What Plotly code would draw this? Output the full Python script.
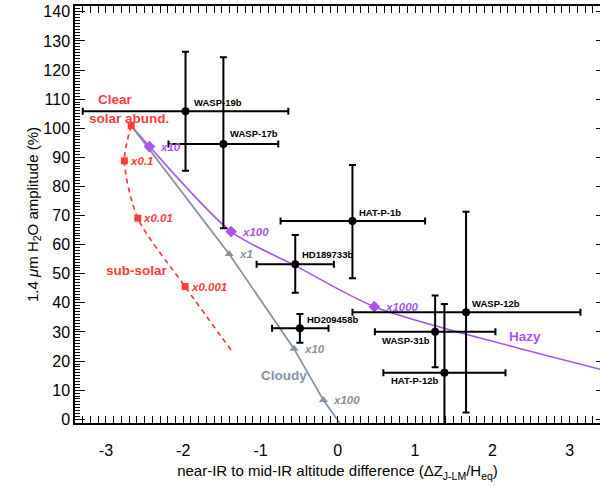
import plotly.graph_objects as go

# ---------------- data ----------------
planets = ["WASP-19b", "WASP-17b", "HAT-P-1b", "HD189733b", "HD209458b",
           "WASP-12b", "WASP-31b", "HAT-P-12b"]
planet_dz = [-1.97, -1.48, 0.19, -0.55, -0.49, 1.66, 1.26, 1.38]
planet_dz_lo = [1.33, 0.71, 0.93, 0.50, 0.36, 1.47, 0.78, 0.79]
planet_dz_hi = [1.33, 0.71, 0.94, 0.50, 0.37, 1.48, 0.78, 0.79]
planet_amp = [105.8, 94.6, 68.1, 53.3, 31.3, 36.8, 30.1, 16.0]
planet_amp_lo = [20.4, 29.0, 19.6, 9.8, 5.0, 34.5, 12.2, 23.6]
planet_amp_hi = [20.5, 29.8, 19.3, 10.0, 4.9, 34.5, 12.4, 23.6]

# clear atmosphere, sub-solar abundances (first point = solar abundance)
sub_dz = [-2.673, -2.761, -2.587, -1.975, -1.351]
sub_amp = [100.9, 88.8, 69.1, 45.6, 22.7]
sub_tags = ["", "x0.1", "x0.01", "x0.001", ""]

# cloudy model
cloudy_dz = [-2.673, -1.406, -0.565, -0.186, 0.03]
cloudy_amp = [100.9, 56.8, 24.2, 6.6, -1.5]
cloudy_tags = ["", "x1", "x10", "x100", ""]

# hazy model
hazy_dz = [-2.673, -2.437, -1.380, -0.55, 0.473, 2.272, 3.393]
hazy_amp = [100.9, 93.7, 64.5, 52.8, 38.7, 24.9, 17.2]
hazy_tags = ["", "x10", "x100", "", "x1000", "", ""]

x_tick_vals = [-3, -2, -1, 0, 1, 2, 3]
x_tick_text = ["-3", "-2", "-1", "0", "1", "2", "3"]
y_tick_vals = [0, 10, 20, 30, 40, 50, 60, 70, 80, 90, 100, 110, 120, 130, 140]

# ---------------- style ----------------
RED = "#ff3b3b"
PURPLE = "#a855f0"
GRAY = "#8593a3"
FONT = "Liberation Sans, Arial, Helvetica, sans-serif"

# label offsets in px (xshift, yshift, xanchor)
planet_label_pos = {
    "WASP-19b": (6, 8.6, "left"),
    "WASP-17b": (4.4, 10, "left"),
    "HAT-P-1b": (4.6, 8.7, "left"),
    "HD189733b": (4.3, 9.3, "left"),
    "HD209458b": (5, 9, "left"),
    "WASP-12b": (4.3, 9, "left"),
    "WASP-31b": (-29.5, -9.3, "center"),
    "HAT-P-12b": (-29, -8, "center"),
}

fig = go.Figure()

# hazy line
fig.add_trace(go.Scatter(x=hazy_dz, y=hazy_amp, mode="lines",
                         line=dict(color=PURPLE, width=1.6, shape="spline", smoothing=0.8),
                         hoverinfo="skip", showlegend=False))
# cloudy line
fig.add_trace(go.Scatter(x=cloudy_dz, y=cloudy_amp, mode="lines",
                         line=dict(color=GRAY, width=1.8),
                         hoverinfo="skip", showlegend=False))
# sub-solar dashed
fig.add_trace(go.Scatter(x=sub_dz, y=sub_amp, mode="lines",
                         line=dict(color=RED, width=1.7, dash="5px,4px", shape="spline", smoothing=0.8),
                         hoverinfo="skip", showlegend=False))

# model markers
hx = [x for x, t in zip(hazy_dz, hazy_tags) if t]
hy = [y for y, t in zip(hazy_amp, hazy_tags) if t]
fig.add_trace(go.Scatter(x=hx, y=hy, mode="markers",
                         marker=dict(symbol="diamond", size=9, color=PURPLE),
                         showlegend=False))
cx = [x for x, t in zip(cloudy_dz, cloudy_tags) if t]
cy = [y for y, t in zip(cloudy_amp, cloudy_tags) if t]
fig.add_trace(go.Scatter(x=cx, y=cy, mode="markers",
                         marker=dict(symbol="triangle-up", size=8, color=GRAY),
                         showlegend=False))
sx = [x for x, t, i in zip(sub_dz, sub_tags, range(len(sub_dz))) if t or i == 0]
sy = [y for y, t, i in zip(sub_amp, sub_tags, range(len(sub_amp))) if t or i == 0]
fig.add_trace(go.Scatter(x=sx, y=sy, mode="markers",
                         marker=dict(symbol="square", size=7, color=RED),
                         showlegend=False))

# planets
fig.add_trace(go.Scatter(
    x=planet_dz, y=planet_amp, mode="markers",
    marker=dict(symbol="circle", size=8, color="black"),
    error_x=dict(type="data", array=planet_dz_hi, arrayminus=planet_dz_lo,
                 color="black", thickness=2, width=3.5),
    error_y=dict(type="data", array=planet_amp_hi, arrayminus=planet_amp_lo,
                 color="black", thickness=2, width=3.5),
    showlegend=False))

# dummy trace for right-hand tick axis
fig.add_trace(go.Scatter(x=[None], y=[None], yaxis="y2", showlegend=False))

ann = []
for name, x, y in zip(planets, planet_dz, planet_amp):
    xs, ys, xa = planet_label_pos[name]
    ann.append(dict(x=x, y=y, text="<b>" + name + "</b>", showarrow=False,
                    xshift=xs, yshift=ys, xanchor=xa, yanchor="middle",
                    font=dict(family=FONT, size=9.5, color="black")))


def tag_ann(xs_, ys_, tags, color, shift):
    for x, y, t in zip(xs_, ys_, tags):
        if t:
            ann.append(dict(x=x, y=y, text="<b><i>" + t + "</i></b>", showarrow=False,
                            xshift=shift, yshift=0, xanchor="left", yanchor="middle",
                            font=dict(family=FONT, size=11.5, color=color)))


tag_ann(sub_dz, sub_amp, sub_tags, RED, 3.5)
tag_ann(cloudy_dz, cloudy_amp, cloudy_tags, GRAY, 7.5)
tag_ann(hazy_dz, hazy_amp, hazy_tags, PURPLE, 8.5)

big = dict(family=FONT, size=13.5)
ann.append(dict(x=sub_dz[0], y=sub_amp[0], text="<b>Clear</b>", showarrow=False,
                xshift=-16, yshift=25.7, xanchor="center", yanchor="middle",
                font=dict(big, color=RED)))
ann.append(dict(x=sub_dz[0], y=sub_amp[0], text="<b>solar abund.</b>", showarrow=False,
                xshift=-2, yshift=7.4, xanchor="center", yanchor="middle",
                font=dict(big, color=RED)))
ann.append(dict(x=-2.600, y=51.1, text="<b>sub-solar</b>", showarrow=False,
                xanchor="center", yanchor="middle", font=dict(big, color=RED)))
ann.append(dict(x=-0.691, y=15.2, text="<b>Cloudy</b>", showarrow=False,
                xanchor="center", yanchor="middle", font=dict(big, color=GRAY)))
ann.append(dict(x=2.425, y=28.6, text="<b>Hazy</b>", showarrow=False,
                xanchor="center", yanchor="middle", font=dict(big, color=PURPLE)))

YR = [-1.27, 142.0]
fig.update_layout(
    width=600, height=486,
    margin=dict(l=75, r=0, t=6, b=63),
    paper_bgcolor="white", plot_bgcolor="white",
    font=dict(family=FONT, color="black"),
    annotations=ann,
    xaxis=dict(range=[-3.40, 3.393], showgrid=False, zeroline=False,
               showline=True, linecolor="black", linewidth=1.5, mirror="allticks",
               ticks="inside", ticklen=7, tickwidth=1, tickcolor="black",
               tickvals=x_tick_vals, ticktext=x_tick_text,
               tickfont=dict(size=16), ticklabelstandoff=12,
               minor=dict(dtick=0.1, tick0=0, ticks="inside", ticklen=3, tickcolor="black", tickwidth=1),
               title=dict(text="near-IR to mid-IR altitude difference (ΔZ<sub>J-LM</sub>/H<sub>eq</sub>)",
                          font=dict(size=15), standoff=8)),
    yaxis=dict(range=YR, showgrid=False, zeroline=False,
               showline=True, linecolor="black", linewidth=1.5, mirror=False,
               ticks="inside", ticklen=10, tickwidth=1, tickcolor="black",
               tickvals=y_tick_vals, tickfont=dict(size=16),
               minor=dict(dtick=1, tick0=0, ticks="inside", ticklen=5, tickcolor="black", tickwidth=1),
               title=dict(text="1.4 <i>μ</i>m H<sub>2</sub>O amplitude (%)", font=dict(size=15), standoff=0)),
    yaxis2=dict(range=YR, overlaying="y", side="right", showgrid=False, zeroline=False,
                showline=True, linecolor="black", linewidth=1.5,
                ticks="inside", ticklen=4, tickcolor="black", tickvals=y_tick_vals,
                showticklabels=False),
)

fig.write_html("out.html")
